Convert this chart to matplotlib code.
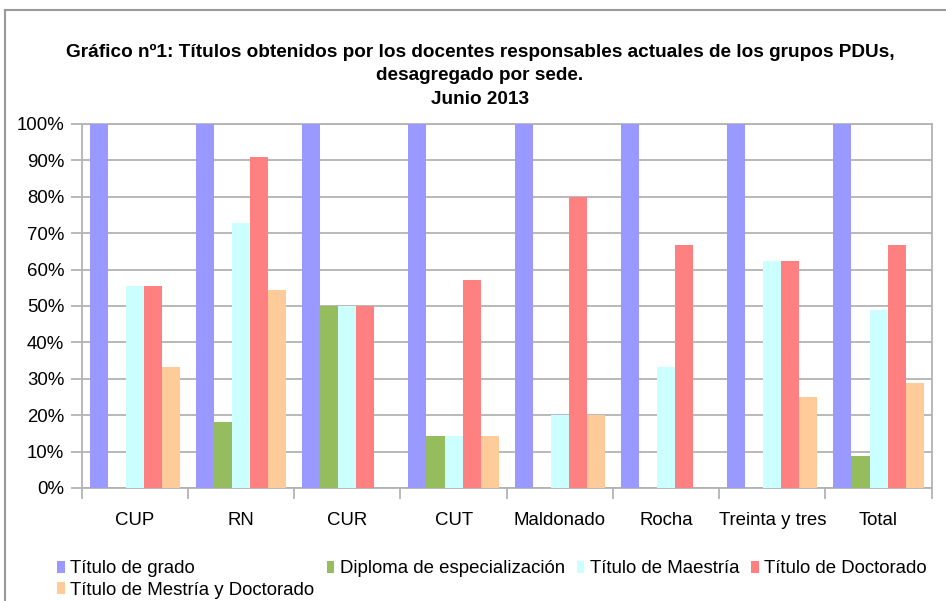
import numpy as np
import matplotlib.pyplot as plt
from matplotlib.lines import Line2D

plt.rcParams['font.family'] = ['Liberation Sans', 'DejaVu Sans']

sedes = ['CUP', 'RN', 'CUR', 'CUT', 'Maldonado', 'Rocha', 'Treinta y tres', 'Total']
series_names = ['Título de grado', 'Diploma de especialización', 'Título de Maestría',
                'Título de Doctorado', 'Título de Mestría y Doctorado']
grado = [100, 100, 100, 100, 100, 100, 100, 100]
diploma = [0, 18.2, 50, 14.3, 0, 0, 0, 8.9]
maestria = [55.6, 72.7, 50, 14.3, 20, 33.3, 62.5, 49.0]
doctorado = [55.6, 90.9, 50, 57.1, 80, 66.7, 62.5, 66.7]
maest_doct = [33.3, 54.5, 0, 14.3, 20, 0, 25, 28.9]
colors = ['#9999ff', '#95bd5e', '#ccffff', '#ff8080', '#ffcc99']

W, H = 946, 601
fig = plt.figure(figsize=(W / 100, H / 100), dpi=100)
ax = fig.add_axes([81.7 / W, 1 - 488 / H, 850 / W, 364 / H])

x = np.arange(len(sedes))
bw = 0.17
handles = []
for i, (vals, c) in enumerate(zip([grado, diploma, maestria, doctorado, maest_doct], colors)):
    b = ax.bar(x + (i - 2) * bw, vals, width=bw, color=c, label=series_names[i], zorder=3)
    handles.append(b)

ax.set_xlim(-0.5, len(sedes) - 0.5)
ax.set_ylim(0, 100)
ax.set_yticks(np.arange(0, 101, 10))
ax.set_yticklabels([f'{v}%' for v in range(0, 101, 10)], fontsize=13.4)
# category boundaries as major ticks, names centred as minor ticks
ax.set_xticks(np.arange(-0.5, len(sedes), 1))
ax.set_xticklabels([])
ax.set_xticks(x, minor=True)
ax.set_xticklabels(sedes, minor=True, fontsize=13.4)
ax.tick_params(axis='x', which='minor', length=0, pad=17)
ax.tick_params(axis='x', which='major', length=8, color='#b3b3b3', width=1.3)
ax.tick_params(axis='y', length=8, color='#b3b3b3', width=1.3, pad=4.5)
ax.yaxis.grid(True, color='#b3b3b3', linewidth=1.3, zorder=0)
for s in ['left', 'right', 'bottom', 'top']:
    ax.spines[s].set_color('#b3b3b3')
    ax.spines[s].set_linewidth(1.3)

title_lines = ['Gráfico nº1: Títulos obtenidos por los docentes responsables actuales de los grupos PDUs,',
               'desagregado por sede.', 'Junio 2013']
for line, ypix in zip(title_lines, [52, 75, 99]):
    fig.text(480 / W, 1 - ypix / H, line, ha='center', va='center',
             fontsize=13.7, fontweight='bold')

# legend, reordered so matplotlib column filling gives the row layout
order = [0, 4, 1, 2, 3]
leg = fig.legend([handles[i] for i in order], [series_names[i] for i in order],
                 ncol=4, loc='upper left', bbox_to_anchor=(48 / W, 1 - 551 / H),
                 frameon=False, fontsize=13.4, handlelength=0.4, handleheight=0.6,
                 handletextpad=0.3, columnspacing=0.65, labelspacing=0.25, borderpad=0)

# outer chart frame
fig.add_artist(Line2D([5 / W, 5 / W], [0, 1 - 10 / H], color='#999999', lw=1.5,
                      transform=fig.transFigure))
fig.add_artist(Line2D([5 / W, 1], [1 - 10 / H, 1 - 10 / H], color='#999999', lw=1.5,
                      transform=fig.transFigure))

fig.savefig('out.png', dpi=100)
